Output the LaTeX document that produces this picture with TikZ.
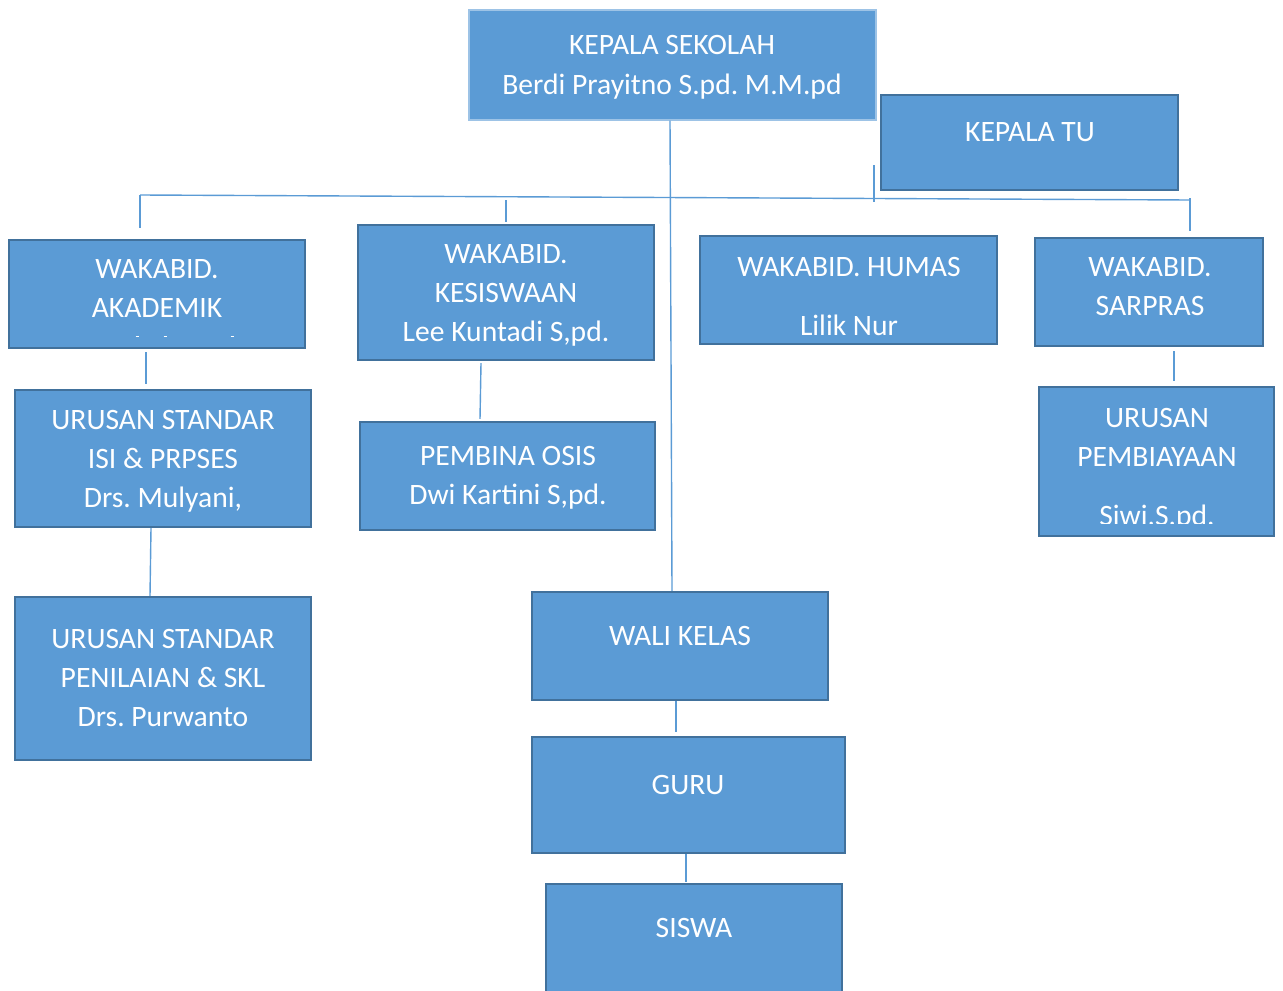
\documentclass[tikz,border=0pt]{standalone}
\usepackage{fontspec}
\setmainfont{Carlito}
\frenchspacing
\definecolor{boxfill}{HTML}{5B9BD5}
\definecolor{boxline}{HTML}{41719C}
\definecolor{ksline}{HTML}{9DC3E6}
\definecolor{conline}{HTML}{5B9BD5}
\tikzset{
	box/.style={draw=boxline, line width=1.2pt, fill=boxfill, inner sep=0pt},
	txt/.style={text=white, align=center, anchor=base, inner sep=0pt,
		font=\fontsize{14.8}{19.5}\selectfont},
	con/.style={draw=conline, line width=0.7pt}
}
\begin{document}
\begin{tikzpicture}[x=0.5pt, y=-0.5pt]
	\clip (0,0) rectangle (1283,990);
	% Kotak
	\node[box, draw=ksline, line width=0.6pt, minimum width=203.5pt,
	minimum height=55pt] (ks) at (672.5, 65) {};
	\node[box, minimum width=148.5pt, minimum height=47.5pt] (tu) at (1029.5,
	142.5) {};
	\node[box, minimum width=148pt, minimum height=54pt] (akad) at (157, 294) {};
	\node[box, minimum width=148pt, minimum height=67.5pt] (kesis) at (506,
	292.5) {};
	\node[box, minimum width=148.5pt, minimum height=54pt] (humas) at (848.5,
	290) {};
	\node[box, minimum width=114pt, minimum height=54pt] (sarpras) at (1149,
	292) {};
	\node[box, minimum width=148pt, minimum height=68.5pt] (isi) at (163,
	458.5) {};
	\node[box, minimum width=147.5pt, minimum height=54pt] (osis) at (507.5,
	476) {};
	\node[box, minimum width=117.5pt, minimum height=74.5pt] (biaya) at (1156.5,
	461.5) {};
	\node[box, minimum width=148pt, minimum height=81.5pt] (nilai) at (163,
	678.5) {};
	\node[box, minimum width=148pt, minimum height=54pt] (wali) at (680, 646) {};
	\node[box, minimum width=156.5pt, minimum height=58pt] (guru) at (688.5,
	795) {};
	\node[box, minimum width=148pt, minimum height=58pt] (siswa) at (694,
	942) {};

	% Teks (base = baris terakhir)
	\node[txt, font=\fontsize{14.8}{20}\selectfont] (ks-t) at (672, 94.5)
	{KEPALA SEKOLAH\\Berdi Prayitno S.pd. M.M.pd};
	\node[txt] (tu-t) at (1030, 141.5) {KEPALA TU};
	\node[txt] (akad-t) at (157, 317.5) {WAKABID.\\AKADEMIK};
	\node[txt] (kesis-t) at (506, 341.5) {WAKABID.\\KESISWAAN\\Lee Kuntadi
	S,pd.};
	\node[txt] (humas-t) at (849, 335.5) {WAKABID. HUMAS\\[10pt]Lilik Nur};
	\node[txt] (sarpras-t) at (1150, 315.5) {WAKABID.\\SARPRAS};
	\node[txt] (isi-t) at (163, 507.5) {URUSAN STANDAR\\ISI \& PRPSES\\Drs.
	Mulyani,};
	\node[txt] (osis-t) at (508, 504.5) {PEMBINA OSIS\\Dwi Kartini S,pd.};
	\begin{scope}
		\clip (1039, 387) rectangle (1274, 523);
		\node[txt] (biaya-t) at (1157, 525.5) {URUSAN\\PEMBIAYAAN\\[10pt]Siwi,S.pd.};
	\end{scope}
	\node[txt] (nilai-t) at (163, 726.5) {URUSAN STANDAR\\PENILAIAN \& SKL\\Drs.
	Purwanto};
	\node[txt] (wali-t) at (680, 645.5) {WALI KELAS};
	\node[txt] (guru-t) at (688, 794.5) {GURU};
	\node[txt] (siswa-t) at (694, 937.5) {SISWA};

	% Sisa baris di kotak akademik
	\foreach \x in {137, 165, 232}
		\draw[white, line width=0.5pt] (\x - 1.5, 336) -- (\x + 1.5, 336);

	% Garis
	\coordinate (busL) at (140, 195);
	\coordinate (busR) at (1190, 200);
	\draw[con] (busL) -- (busR);
	\draw[con] ([xshift=-1.25pt]ks.south) -- ([xshift=-4pt]wali.north);
	\draw[con] (busL) -- ++(0, 33);
	\draw[con] ([yshift=1pt]kesis.north) -- ++(0, -22);
	\draw[con] ([xshift=-3pt, yshift=-11.25pt]tu.west) -- ++(0, 37);
	\draw[con] ([xshift=20.5pt, yshift=3pt]sarpras.north) -- ++(0, -33);
	\draw[con] ([xshift=-5.5pt, yshift=-1.5pt]akad.south) -- ([xshift=-8.5pt,
	yshift=2.5pt]isi.north);
	\draw[con] ([xshift=-6pt]isi.south) -- ([xshift=-6.5pt]nilai.north);
	\draw[con] ([xshift=-12.5pt, yshift=-1pt]kesis.south) -- ([xshift=-13.75pt,
	yshift=1pt]osis.north);
	\draw[con] ([xshift=12.5pt, yshift=-2pt]sarpras.south) -- ([xshift=8.75pt,
	yshift=2.5pt]biaya.north);
	\draw[con] ([xshift=-2pt]wali.south) -- ([xshift=-6.25pt,
	yshift=2pt]guru.north);
	\draw[con] ([xshift=-1.25pt]guru.south) -- ([xshift=-4pt,
	yshift=0.5pt]siswa.north);
\end{tikzpicture}
\end{document}
